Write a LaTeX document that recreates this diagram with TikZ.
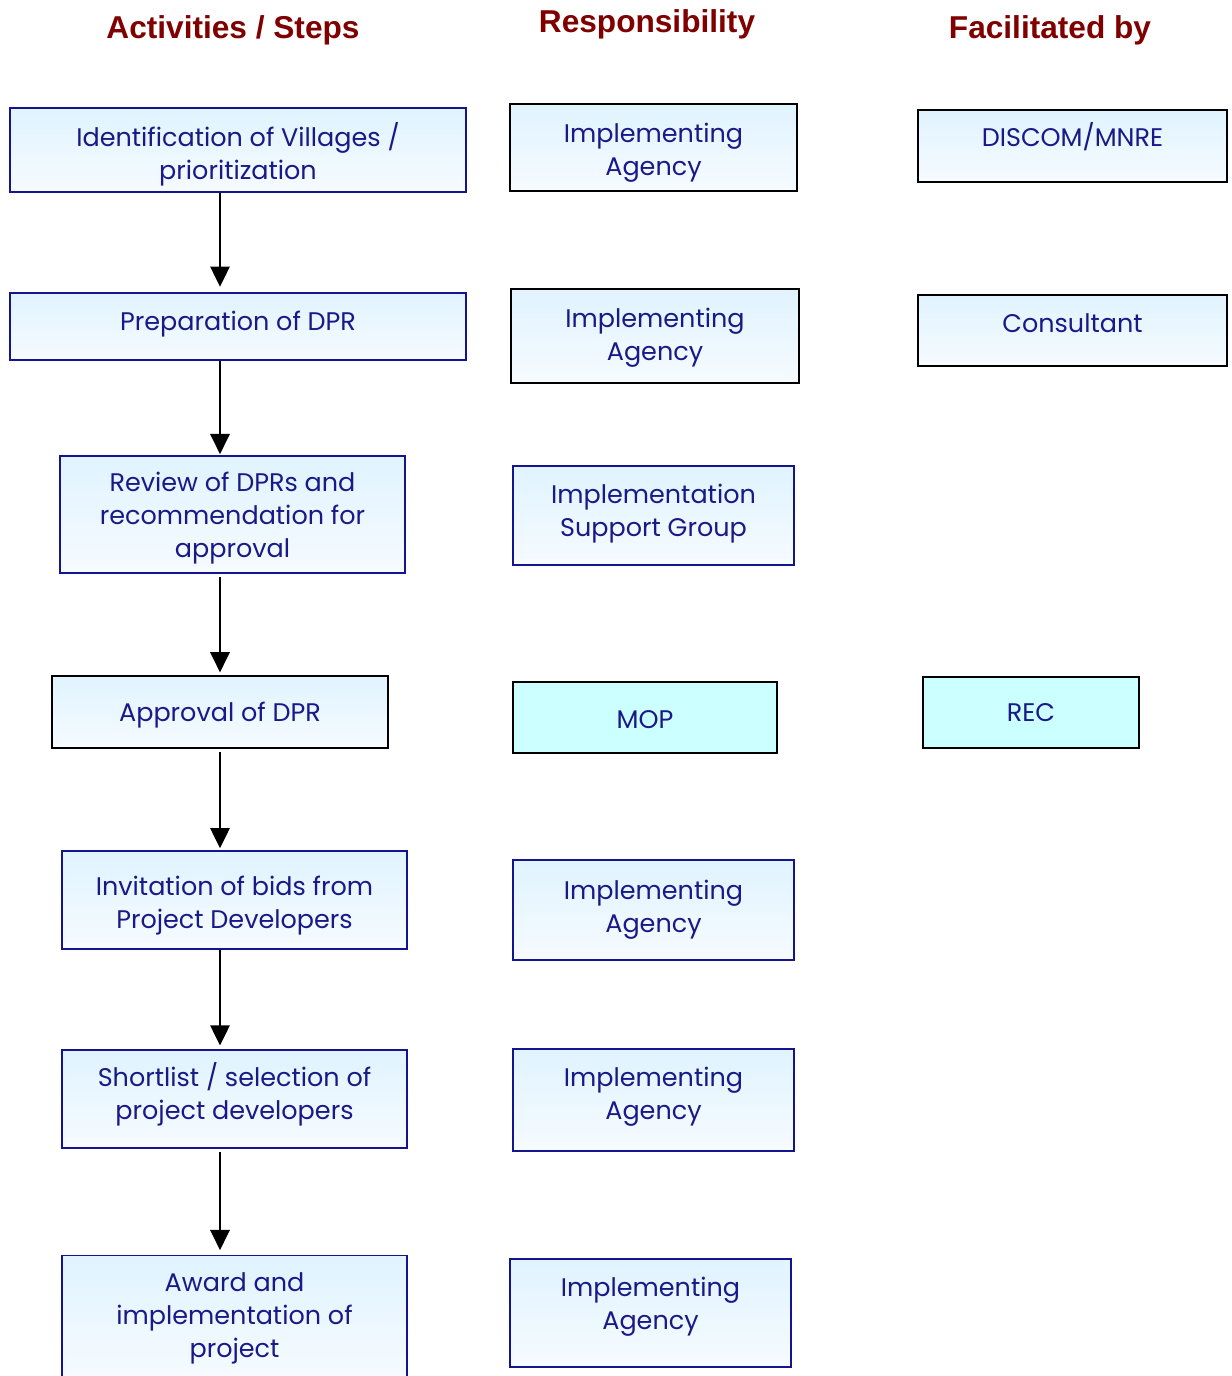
\documentclass[tikz,border=0pt]{standalone}
\usepackage{fontspec}
\setmainfont{Poppins}
\newfontfamily\headfont{Liberation Sans}
\usetikzlibrary{arrows.meta}
\definecolor{headred}{RGB}{128,0,0}
\definecolor{textblue}{RGB}{25,25,135}
\definecolor{lineblue}{RGB}{20,20,140}
\definecolor{boxtop}{RGB}{224,243,255}
\definecolor{boxbottom}{RGB}{246,251,255}
\definecolor{mopcyan}{RGB}{204,255,255}
% taller first line, pushes a box text down a little
\newcommand{\dropline}[1]{\rule{0pt}{\dimexpr 11pt+2\dimexpr#1\relax\relax}}
\tikzset{
  plainbox/.style={rectangle, draw=lineblue, line width=1.1pt, text=textblue,
    align=center, inner sep=0pt, font=\fontsize{14.5}{18.8}\selectfont},
  box/.style={plainbox, top color=boxtop, bottom color=boxbottom},
  blackbox/.style={box, draw=black},
  cyanbox/.style={plainbox, draw=black, fill=mopcyan},
  heading/.style={text=headred, font=\headfont\bfseries\fontsize{18}{20}\selectfont},
  flow/.style={-{Triangle[width=11pt,length=11.5pt]}, line width=1.1pt},
  % deeper last line, pulls a box text up a little
  textup/.style={execute at end node={\rule[\dimexpr -4pt-2\dimexpr#1\relax\relax]{0pt}{0pt}}}
}
\begin{document}
\begin{tikzpicture}[x=0.02cm,y=-0.02cm]
  % Page frame
  \clip (0,0) rectangle (1231,1376);
  % Column headings
  \node[heading] (hact) at (233,30) {Activities / Steps};
  \node[heading] (hresp) at (647,24) {Responsibility};
  \node[heading] (hfac) at (1050,30) {Facilitated by};
  % Activities / steps
  \node[box, minimum width=9.12cm, minimum height=1.68cm] (s1) at (238,150)
    {\dropline{4pt}Identification of Villages /\\prioritization};
  \node[box, textup=1.1pt, minimum width=9.12cm, minimum height=1.34cm] (s2) at (238,326.5)
    {Preparation of DPR};
  \node[box, minimum width=6.9cm, minimum height=2.34cm] (s3) at (232.5,514.5)
    {\dropline{2.3pt}Review of DPRs and\\recommendation for\\approval};
  \node[blackbox, minimum width=6.72cm, minimum height=1.44cm] (s4) at (220,712)
    {\dropline{1.7pt}Approval of DPR};
  \node[box, minimum width=6.9cm, minimum height=1.96cm] (s5) at (234.5,900)
    {\dropline{3.1pt}Invitation of bids from\\Project Developers};
  \node[box, textup=2.8pt, minimum width=6.9cm, minimum height=1.96cm] (s6) at (234.5,1099)
    {Shortlist / selection of\\project developers};
  \node[box, minimum width=6.9cm, minimum height=2.5cm] (s7) at (234.5,1318)
    {Award and\\implementation of\\project};
  % Responsibility
  \node[blackbox, minimum width=5.74cm, minimum height=1.74cm] (r1) at (653.5,147.5)
    {\dropline{2.8pt}Implementing\\Agency};
  \node[blackbox, minimum width=5.76cm, minimum height=1.88cm] (r2) at (655,336)
    {\dropline{0.9pt}Implementing\\Agency};
  \node[box, textup=0.9pt, minimum width=5.62cm, minimum height=1.98cm] (r3) at (653.5,515.5)
    {Implementation\\Support Group};
  \node[cyanbox, minimum width=5.28cm, minimum height=1.42cm] (r4) at (645,717.5)
    {\dropline{0.6pt}MOP};
  \node[box, minimum width=5.62cm, minimum height=2cm] (r5) at (653.5,910)
    {Implementing\\Agency};
  \node[box, textup=1.7pt, minimum width=5.62cm, minimum height=2.04cm] (r6) at (653.5,1100)
    {Implementing\\Agency};
  \node[box, textup=3.4pt, minimum width=5.62cm, minimum height=2.16cm] (r7) at (650.5,1313)
    {Implementing\\Agency};
  % Facilitated by
  \node[blackbox, minimum width=6.18cm, minimum height=1.44cm] (f1) at (1072.5,146)
    {\raisebox{-0.5pt}[0pt][0pt]{DISCOM/MNRE}};
  \node[blackbox, minimum width=6.18cm, minimum height=1.42cm] (f2) at (1072.5,330.5)
    {\raisebox{-1pt}[0pt][0pt]{Consultant}};
  \node[cyanbox, minimum width=4.32cm, minimum height=1.42cm] (f3) at (1031,712.5)
    {REC};
  % Flow of steps
  \coordinate (spine) at (220,0);
  \draw[flow, shorten >=3pt] (s1.south -| spine) -- (s2.north -| spine);
  \draw[flow, shorten >=0.5pt] (s2.south -| spine) -- (s3.north -| spine);
  \draw[flow, shorten <=2pt, shorten >=1.5pt] (s3.south -| spine) -- (s4.north -| spine);
  \draw[flow, shorten <=2pt, shorten >=1pt] (s4.south -| spine) -- (s5.north -| spine);
  \draw[flow, shorten >=2pt] (s5.south -| spine) -- (s6.north -| spine);
  \draw[flow, shorten <=2pt, shorten >=2.5pt] (s6.south -| spine) -- (s7.north -| spine);
\end{tikzpicture}
\end{document}
